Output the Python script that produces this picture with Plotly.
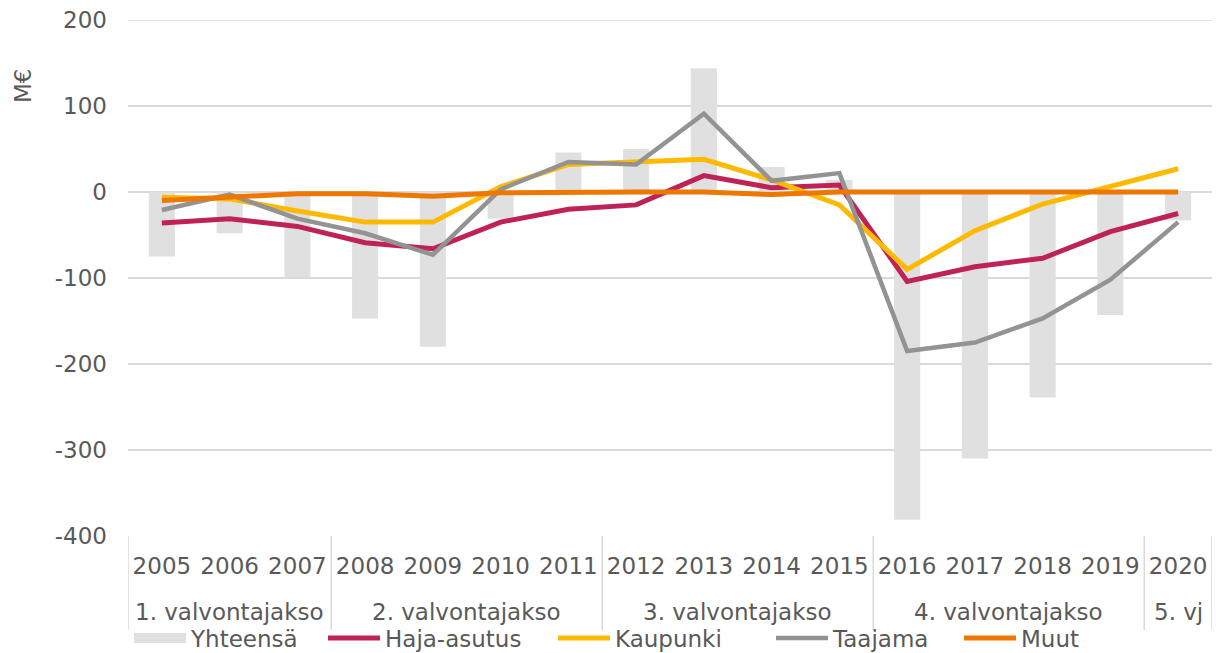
import plotly.graph_objects as go

years = [str(y) for y in range(2005, 2021)]
periods = ["1. valvontajakso", "2. valvontajakso", "3. valvontajakso", "4. valvontajakso", "5. vj"]
period_sizes = [3, 4, 4, 4, 1]

yhteensa = [-75, -48, -99, -147, -180, -31, 46, 50, 144, 29, 14, -381, -310, -239, -143, -33]
haja_asutus = [-36, -31, -40, -59, -66, -35, -20, -15, 19, 5, 8, -104, -87, -77, -46, -25]
kaupunki = [-6, -8, -22, -35, -35, 6, 32, 35, 38, 14, -15, -90, -45, -14, 7, 27]
taajama = [-21, -3, -31, -48, -73, 3, 35, 32, 91, 13, 22, -185, -175, -147, -102, -35]
muut = [-10, -6, -2, -2, -5, -1, 0, 0, 0, -3, 0, 0, 0, 0, 0, 0]

y_ticks = [-400, -300, -200, -100, 0, 100, 200]

font = "DejaVu Sans, Verdana, sans-serif"
txt = "#595959"
grid = "#d9d9d9"
FS = 23

# page body has an 8px margin, so the figure is drawn 8px smaller and shifted
W, H = 1220, 645
L, T, R, B = 120, 12, 16, 117
plot_w = W - L - R
plot_h = H - T - B
bottom_px = H - B  # figure-relative pixel of plot bottom


def px_x(page_x):
    return (page_x - 8 - L) / plot_w


def px_y(page_y):
    return (bottom_px - (page_y - 8)) / plot_h


fig = go.Figure()
fig.add_trace(go.Bar(x=years, y=yhteensa, name="Yhteensä", marker_color="#e0e0e0",
                     marker_line_width=0, width=0.385, showlegend=False))
# legend entry for the bar series (wide swatch like the original)
fig.add_trace(go.Scatter(x=[None], y=[None], name="Yhteensä", mode="lines",
                         line=dict(color="#e0e0e0", width=14), legend="legend"))
fig.add_trace(go.Scatter(x=years, y=haja_asutus, name="Haja-asutus", mode="lines",
                         line=dict(color="#bf2356", width=5), legend="legend2"))
fig.add_trace(go.Scatter(x=years, y=kaupunki, name="Kaupunki", mode="lines",
                         line=dict(color="#ffb900", width=5), legend="legend3"))
fig.add_trace(go.Scatter(x=years, y=taajama, name="Taajama", mode="lines",
                         line=dict(color="#939393", width=4.5), legend="legend4"))
fig.add_trace(go.Scatter(x=years, y=muut, name="Muut", mode="lines",
                         line=dict(color="#ee7700", width=5), legend="legend5"))

div_bottom = px_y(630)
period_y = px_y(612)

shapes = []
annotations = []
start = 0
bounds = [-0.5]
for name, n in zip(periods, period_sizes):
    center = start + (n - 1) / 2
    annotations.append(dict(text=name, x=center, xref="x", y=period_y, yref="paper",
                            xanchor="center", yanchor="middle", showarrow=False,
                            font=dict(size=FS, color=txt)))
    start += n
    bounds.append(start - 0.5)
for b in bounds:
    shapes.append(dict(type="line", xref="x", yref="paper", x0=b, x1=b, y0=0, y1=div_bottom,
                       line=dict(color=grid, width=1.5)))
# top gridline (plotly drops the grid line at the upper range edge)
shapes.append(dict(type="line", xref="paper", yref="y", x0=0, x1=1,
                   y0=y_ticks[-1], y1=y_ticks[-1], layer="below",
                   line=dict(color=grid, width=1.5)))

annotations.append(dict(text="M€", xref="paper", yref="paper", x=px_x(23),
                        y=px_y(86), xanchor="center", yanchor="middle",
                        showarrow=False, textangle=-90,
                        font=dict(size=FS, color=txt)))

swatch_starts = [135, 329, 559, 777, 965]
legend_y = px_y(638)


def leg(xp):
    return dict(orientation="h", x=px_x(xp - 6), xanchor="left", y=legend_y,
                yanchor="middle", font=dict(size=FS, color=txt), itemwidth=52,
                bgcolor="rgba(0,0,0,0)", borderwidth=0)


fig.update_layout(
    width=W, height=H,
    margin=dict(l=L, r=R, t=T, b=B, autoexpand=False),
    plot_bgcolor="white", paper_bgcolor="white",
    font=dict(family=font, size=FS, color=txt),
    showlegend=True,
    legend=leg(swatch_starts[0]),
    legend2=leg(swatch_starts[1]),
    legend3=leg(swatch_starts[2]),
    legend4=leg(swatch_starts[3]),
    legend5=leg(swatch_starts[4]),
    xaxis=dict(type="category", showgrid=False, showline=False, ticks="",
               automargin=False, tickfont=dict(size=FS, color=txt),
               ticklabelstandoff=14, range=[-0.5, 15.5]),
    yaxis=dict(range=[-400, 200], tickvals=y_ticks, ticktext=[str(v) for v in y_ticks],
               showgrid=True, gridcolor=grid, gridwidth=1.5, zeroline=False,
               showline=False, ticks="", automargin=False, ticklabeloverflow="allow",
               tickfont=dict(size=FS, color=txt), ticklabelstandoff=20),
    shapes=shapes,
    annotations=annotations,
)

fig.write_html("out.html")
